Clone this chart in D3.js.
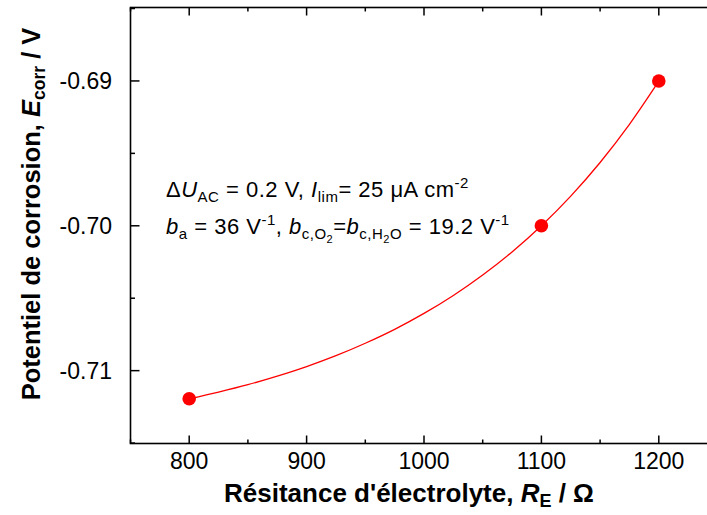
<!DOCTYPE html>
<html><head><meta charset="utf-8">
<script src="https://cdn.jsdelivr.net/npm/d3@7"></script>
<style>
body{margin:0;background:#fff}
text{font-family:"Liberation Sans",Arial,sans-serif}
</style></head>
<body><svg id="c" width="707" height="515"></svg>
<script>
// Data
const resistance = [800, 1100, 1200];
const ecorr = [-0.71194, -0.7000, -0.6900];
// Fitted curve
const curveR = [800,825,850,875,900,925,950,975,1000,1025,1050,1075,1100,1125,1150,1175,1200];
const curveE = [-0.71194,-0.71148,-0.71097,-0.71038,-0.70972,-0.70897,-0.70811,-0.70715,-0.70605,-0.70481,-0.70340,-0.70181,-0.70000,-0.69795,-0.69563,-0.69300,-0.69002];
const xTicks = [800, 900, 1000, 1100, 1200];
const xMinor = [750, 850, 950, 1050, 1150, 1250];
const yTicks = [-0.69, -0.70, -0.71];
const yMinor = [-0.685, -0.695, -0.705, -0.715];

const svg = d3.select("#c");
const L = 130.5, R = 717.5, T = 7.5, B = 443.5;
const x = d3.scaleLinear().domain([750, 1250]).range([L, R]);
const y = d3.scaleLinear().domain([-0.71503, -0.68493]).range([B, T]);

const g = svg.append("g");
g.append("rect").attr("x", L).attr("y", T).attr("width", R - L).attr("height", B - T)
  .attr("fill", "none").attr("stroke", "#000").attr("stroke-width", 1.6);

const tk = (x1,y1,x2,y2)=>g.append("line").attr("x1",x1).attr("y1",y1).attr("x2",x2).attr("y2",y2).attr("stroke","#000").attr("stroke-width",1.5);
xTicks.forEach(v=>{ tk(x(v),B,x(v),B-8); tk(x(v),T,x(v),T+8); });
xMinor.forEach(v=>{ tk(x(v),B,x(v),B-4); tk(x(v),T,x(v),T+4); });
yTicks.forEach(v=>{ tk(L,y(v),L+9,y(v)); tk(R,y(v),R-9,y(v)); });
yMinor.forEach(v=>{ tk(L,y(v),L+4.5,y(v)); tk(R,y(v),R-4.5,y(v)); });

xTicks.forEach(v=>{
  g.append("text").attr("x", x(v)).attr("y", 469).attr("text-anchor","middle")
   .attr("font-size", 23).text(d3.format("d")(v));
});
yTicks.forEach(v=>{
  g.append("text").attr("x", L - 18.5).attr("y", y(v) + 8).attr("text-anchor","end")
   .attr("font-size", 23).text(d3.format(".2f")(v).replace("−","-"));
});

const pts = curveR.map((r,i)=>[r, curveE[i]]);
g.append("path").datum(pts)
  .attr("d", d3.line().x(d=>x(d[0])).y(d=>y(d[1])).curve(d3.curveMonotoneX))
  .attr("fill","none").attr("stroke","#ff0000").attr("stroke-width",1.3);

g.selectAll("circle.p").data(resistance).enter().append("circle")
  .attr("cx",(d)=>x(d)).attr("cy",(d,i)=>y(ecorr[i])).attr("r",6.8).attr("fill","#ff0000");

const xt = g.append("text").attr("x", 409).attr("y", 502).attr("text-anchor","middle")
  .attr("font-size", 26).attr("font-weight","bold");
xt.append("tspan").text("Résitance d'électrolyte, ");
xt.append("tspan").attr("font-style","italic").text("R");
xt.append("tspan").attr("font-size",18).attr("dy",5).text("E");
xt.append("tspan").attr("dy",-5).text(" / Ω");

const yt = g.append("text").attr("transform","translate(40,214) rotate(-90)")
  .attr("text-anchor","middle").attr("font-size",25.5).attr("font-weight","bold");
yt.append("tspan").text("Potentiel de corrosion, ");
yt.append("tspan").attr("font-style","italic").text("E");
yt.append("tspan").attr("font-size",17.5).attr("dy",5).text("corr");
yt.append("tspan").attr("dy",-5).text(" / V");

const a1 = g.append("text").attr("x",166).attr("y",197).attr("font-size",22).attr("letter-spacing",0.5);
a1.append("tspan").text("Δ");
a1.append("tspan").attr("font-style","italic").text("U");
a1.append("tspan").attr("font-size",15).attr("dy",5).text("AC");
a1.append("tspan").attr("dy",-5).text(" = 0.2 V, ");
a1.append("tspan").attr("font-style","italic").text("I");
a1.append("tspan").attr("font-size",15).attr("dy",5).text("lim");
a1.append("tspan").attr("dy",-5).text("= 25 μA cm");
a1.append("tspan").attr("font-size",15).attr("dy",-9).text("-2");

const a2 = g.append("text").attr("x",166).attr("y",234).attr("font-size",22).attr("letter-spacing",0.5);
a2.append("tspan").attr("font-style","italic").text("b");
a2.append("tspan").attr("font-size",15).attr("dy",5).text("a");
a2.append("tspan").attr("dy",-5).text(" = 36 V");
a2.append("tspan").attr("font-size",15).attr("dy",-9).text("-1");
a2.append("tspan").attr("dy",9).text(", ");
a2.append("tspan").attr("font-style","italic").text("b");
a2.append("tspan").attr("font-size",15).attr("dy",5).text("c,O");
a2.append("tspan").attr("font-size",11).attr("dy",4).text("2");
a2.append("tspan").attr("dy",-9).text("=");
a2.append("tspan").attr("font-style","italic").text("b");
a2.append("tspan").attr("font-size",15).attr("dy",5).text("c,H");
a2.append("tspan").attr("font-size",11).attr("dy",4).text("2");
a2.append("tspan").attr("font-size",15).attr("dy",-4).text("O");
a2.append("tspan").attr("dy",-5).text(" = 19.2 V");
a2.append("tspan").attr("font-size",15).attr("dy",-9).text("-1");
</script></body></html>
